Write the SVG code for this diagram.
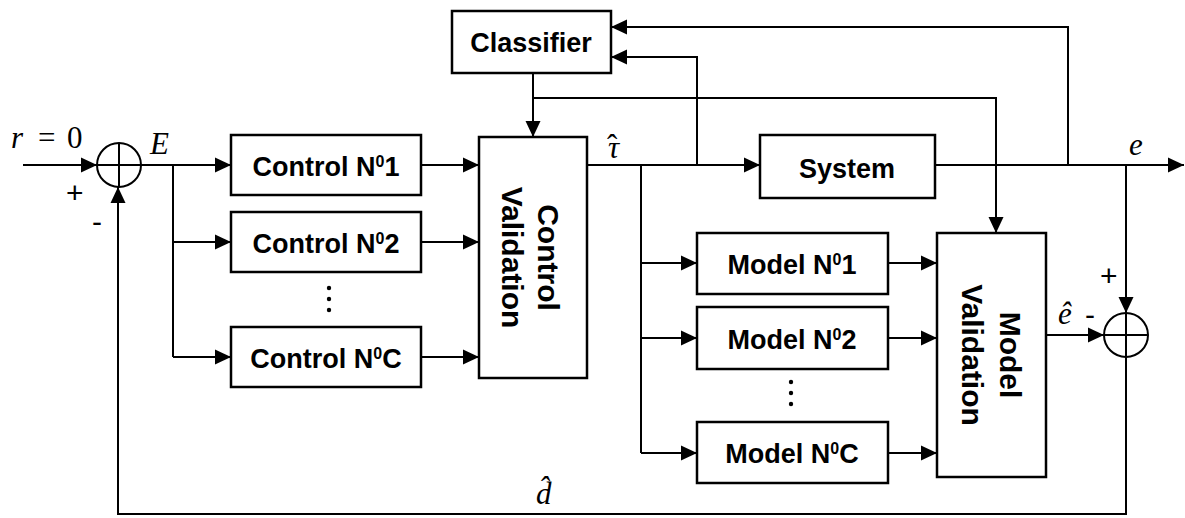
<svg xmlns="http://www.w3.org/2000/svg" width="1185" height="518" viewBox="0 0 1185 518">
<defs>
<style>
.box{fill:#fff;stroke:#000;stroke-width:2.5}
.ln{fill:none;stroke:#000;stroke-width:2}
.lab{font-family:"Liberation Sans",Arial,sans-serif;font-weight:bold;font-size:27px;fill:#000;text-anchor:middle}
.sup{font-size:16px}
.rot{font-family:"Liberation Sans",Arial,sans-serif;font-weight:bold;font-size:30px;fill:#000;text-anchor:middle}
.math{font-family:"Liberation Serif","Times New Roman",serif;font-style:italic;font-size:31px;fill:#000}
.up{font-style:normal}
.sign{font-family:"Liberation Sans",Arial,sans-serif;font-size:30px;fill:#000}
.dot{fill:#000}
</style>
<marker id="arr" viewBox="0 0 16 16" markerWidth="16" markerHeight="16" refX="16" refY="8" orient="auto" markerUnits="userSpaceOnUse">
<path d="M0,0.5 L16,8 L0,15.5 z" fill="#000"/>
</marker>
</defs>
<rect width="1185" height="518" fill="#fff"/>

<g id="connectors" class="ln">
<path d="M23,165 H97" marker-end="url(#arr)"/>
<path d="M141,165 H231" marker-end="url(#arr)"/>
<path d="M173,165 V357"/>
<path d="M173,242 H231" marker-end="url(#arr)"/>
<path d="M173,357 H231" marker-end="url(#arr)"/>
<path d="M421,165 H479" marker-end="url(#arr)"/>
<path d="M421,242 H479" marker-end="url(#arr)"/>
<path d="M421,357 H479" marker-end="url(#arr)"/>
<path d="M587,165 H760" marker-end="url(#arr)"/>
<path d="M641,165 V453"/>
<path d="M641,263 H697" marker-end="url(#arr)"/>
<path d="M641,338 H697" marker-end="url(#arr)"/>
<path d="M641,453 H697" marker-end="url(#arr)"/>
<path d="M697,165 V57 H611" marker-end="url(#arr)"/>
<path d="M533,73 V137" marker-end="url(#arr)"/>
<path d="M533,98 H996 V233" marker-end="url(#arr)"/>
<path d="M888,263 H937" marker-end="url(#arr)"/>
<path d="M888,338 H937" marker-end="url(#arr)"/>
<path d="M888,453 H937" marker-end="url(#arr)"/>
<path d="M935,165 H1184" marker-end="url(#arr)"/>
<path d="M1068,165 V27 H611" marker-end="url(#arr)"/>
<path d="M1126,165 V313" marker-end="url(#arr)"/>
<path d="M1046,335 H1104" marker-end="url(#arr)"/>
<path d="M1126,357 V514 H118 V187" marker-end="url(#arr)"/>
</g>

<g id="sum1">
<circle class="box" cx="119" cy="165" r="22" style="stroke-width:2"/>
<path class="ln" d="M97,165 H141 M119,143 V187"/>
</g>

<g id="sum2">
<circle class="box" cx="1126" cy="335" r="22" style="stroke-width:2"/>
<path class="ln" d="M1104,335 H1148 M1126,313 V357"/>
</g>

<g id="classifier">
<rect class="box" x="452" y="11" width="159" height="62"/>
<text class="lab" x="531" y="52">Classifier</text>
</g>

<g id="control1">
<rect class="box" x="231" y="135" width="190" height="60"/>
<text class="lab" x="326" y="176">Control N<tspan class="sup" dy="-9">0</tspan><tspan dy="9">1</tspan></text>
</g>
<g id="control2">
<rect class="box" x="231" y="212" width="190" height="60"/>
<text class="lab" x="326" y="253">Control N<tspan class="sup" dy="-9">0</tspan><tspan dy="9">2</tspan></text>
</g>
<g id="control-dots">
<circle class="dot" cx="329" cy="288" r="2.2"/>
<circle class="dot" cx="329" cy="299" r="2.2"/>
<circle class="dot" cx="329" cy="310" r="2.2"/>
</g>
<g id="controlC">
<rect class="box" x="231" y="327" width="190" height="60"/>
<text class="lab" x="326" y="368">Control N<tspan class="sup" dy="-9">0</tspan><tspan dy="9">C</tspan></text>
</g>

<g id="control-validation">
<rect class="box" x="479" y="137" width="108" height="241"/>
<g transform="translate(533,257.5) rotate(90)">
<text class="rot" x="0" y="-5">Control</text>
<text class="rot" x="0" y="31">Validation</text>
</g>
</g>

<g id="system">
<rect class="box" x="760" y="135" width="175" height="63"/>
<text class="lab" x="847" y="178">System</text>
</g>

<g id="model1">
<rect class="box" x="697" y="233" width="191" height="61"/>
<text class="lab" x="792" y="274">Model N<tspan class="sup" dy="-9">0</tspan><tspan dy="9">1</tspan></text>
</g>
<g id="model2">
<rect class="box" x="697" y="307" width="191" height="62"/>
<text class="lab" x="792" y="349">Model N<tspan class="sup" dy="-9">0</tspan><tspan dy="9">2</tspan></text>
</g>
<g id="model-dots">
<circle class="dot" cx="791" cy="382" r="2.2"/>
<circle class="dot" cx="791" cy="393" r="2.2"/>
<circle class="dot" cx="791" cy="404" r="2.2"/>
</g>
<g id="modelC">
<rect class="box" x="697" y="422" width="191" height="61"/>
<text class="lab" x="792" y="463">Model N<tspan class="sup" dy="-9">0</tspan><tspan dy="9">C</tspan></text>
</g>

<g id="model-validation">
<rect class="box" x="937" y="233" width="109" height="244"/>
<g transform="translate(991.5,355) rotate(90)">
<text class="rot" x="0" y="-8.5">Model</text>
<text class="rot" x="0" y="29.5">Validation</text>
</g>
</g>

<g id="labels">
<text class="math" y="148"><tspan x="11">r</tspan><tspan class="up" x="38">=</tspan><tspan class="up" x="67">0</tspan></text>
<text class="math" x="150" y="154">E</text>
<text class="math" x="607" y="158">τ<tspan class="up" dx="-12" dy="-2">ˆ</tspan></text>
<text class="math" x="1129" y="155">e</text>
<text class="math" x="1058" y="324">ê</text>
<text class="math" x="536" y="504">d̂</text>
<text class="sign" x="66" y="203">+</text>
<text class="sign" x="92" y="232">-</text>
<text class="sign" x="1100" y="286">+</text>
<text class="sign" x="1085" y="325">-</text>
</g>
</svg>
